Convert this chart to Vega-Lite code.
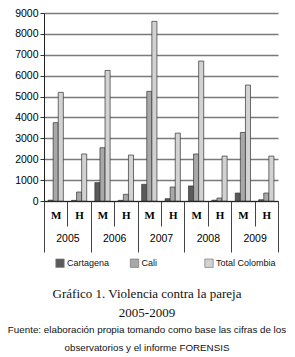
{
  "$schema": "https://vega.github.io/schema/vega-lite/v6.json",
  "autosize": {"type": "none"},
  "width": 234,
  "height": 188,
  "padding": {"left": 44, "top": 13, "right": 17, "bottom": 156},
  "background": "white",
  "config": {
    "view": {"stroke": null},
    "axis": {"labelColor": "black", "tickColor": "#333", "domainColor": "#222"}
  },
  "title": {
    "text": ["Gráfico 1. Violencia contra la pareja", "2005-2009"],
    "subtitle": ["Fuente: elaboración propia tomando como base las cifras de los", "observatorios y el informe FORENSIS\u2003\u2003\u2003\u2003\u2003"],
    "orient": "bottom",
    "anchor": "middle",
    "frame": "group",
    "dx": -14,
    "font": "Liberation Serif",
    "fontSize": 13,
    "fontWeight": "normal",
    "lineHeight": 19,
    "color": "#111",
    "subtitleFont": "Liberation Sans",
    "subtitleFontSize": 9.8,
    "subtitleLineHeight": 18,
    "subtitleColor": "#111",
    "subtitlePadding": 5,
    "offset": 19
  },
  "layer": [
    {
      "data": {
        "values": [
          {"cat": "2005|M", "serie": "Cartagena", "valor": 40},
          {"cat": "2005|M", "serie": "Cali", "valor": 3750},
          {"cat": "2005|M", "serie": "Total Colombia", "valor": 5200},
          {"cat": "2005|H", "serie": "Cartagena", "valor": 30},
          {"cat": "2005|H", "serie": "Cali", "valor": 430},
          {"cat": "2005|H", "serie": "Total Colombia", "valor": 2250},
          {"cat": "2006|M", "serie": "Cartagena", "valor": 880},
          {"cat": "2006|M", "serie": "Cali", "valor": 2550},
          {"cat": "2006|M", "serie": "Total Colombia", "valor": 6250},
          {"cat": "2006|H", "serie": "Cartagena", "valor": 30},
          {"cat": "2006|H", "serie": "Cali", "valor": 320},
          {"cat": "2006|H", "serie": "Total Colombia", "valor": 2200},
          {"cat": "2007|M", "serie": "Cartagena", "valor": 800},
          {"cat": "2007|M", "serie": "Cali", "valor": 5250},
          {"cat": "2007|M", "serie": "Total Colombia", "valor": 8600},
          {"cat": "2007|H", "serie": "Cartagena", "valor": 110},
          {"cat": "2007|H", "serie": "Cali", "valor": 670},
          {"cat": "2007|H", "serie": "Total Colombia", "valor": 3250},
          {"cat": "2008|M", "serie": "Cartagena", "valor": 720},
          {"cat": "2008|M", "serie": "Cali", "valor": 2250},
          {"cat": "2008|M", "serie": "Total Colombia", "valor": 6700},
          {"cat": "2008|H", "serie": "Cartagena", "valor": 40},
          {"cat": "2008|H", "serie": "Cali", "valor": 140},
          {"cat": "2008|H", "serie": "Total Colombia", "valor": 2150},
          {"cat": "2009|M", "serie": "Cartagena", "valor": 380},
          {"cat": "2009|M", "serie": "Cali", "valor": 3280},
          {"cat": "2009|M", "serie": "Total Colombia", "valor": 5550},
          {"cat": "2009|H", "serie": "Cartagena", "valor": 60},
          {"cat": "2009|H", "serie": "Cali", "valor": 380},
          {"cat": "2009|H", "serie": "Total Colombia", "valor": 2150}
        ]
      },
      "mark": {"type": "bar", "stroke": "#333", "strokeWidth": 0.7},
      "encoding": {
        "x": {
          "field": "cat",
          "type": "nominal",
          "sort": null,
          "scale": {"paddingInner": 0, "paddingOuter": 0},
          "axis": {
            "title": null,
            "labelAngle": 0,
            "labelExpr": "split(datum.value, '|')[1]",
            "labelFont": "Liberation Serif",
            "labelFontWeight": "bold",
            "labelFontSize": 11,
            "labelBaseline": "middle",
            "labelPadding": -11,
            "tickBand": "extent",
            "tickSize": 25,
            "tickColor": "#444",
            "domainColor": "#222"
          }
        },
        "xOffset": {
          "field": "serie",
          "type": "nominal",
          "sort": ["Cartagena", "Cali", "Total Colombia"],
          "scale": {"paddingInner": 0, "paddingOuter": 0.8}
        },
        "y": {
          "field": "valor",
          "type": "quantitative",
          "scale": {"domain": [0, 9000], "nice": false},
          "axis": {
            "title": null,
            "values": [0, 1000, 2000, 3000, 4000, 5000, 6000, 7000, 8000, 9000],
            "format": "d",
            "labelFont": "Liberation Sans",
            "labelFontSize": 10.5,
            "labelPadding": 2,
            "tickSize": 4,
            "grid": true,
            "gridColor": "#7a7a7a",
            "gridWidth": 1.5,
            "domainColor": "#222"
          }
        },
        "color": {
          "field": "serie",
          "type": "nominal",
          "sort": ["Cartagena", "Cali", "Total Colombia"],
          "scale": {"range": ["#5a5a5a", "#a8a8a8", "#d2d2d2"]},
          "legend": {
            "title": null,
            "orient": "none",
            "legendX": 11,
            "legendY": 245,
            "direction": "horizontal",
            "columns": 3,
            "gridAlign": "all",
            "columnPadding": 1.5,
            "symbolType": "square",
            "symbolSize": 70,
            "symbolStrokeColor": "#777",
            "symbolStrokeWidth": 0.7,
            "symbolOffset": 0,
            "labelFont": "Liberation Sans",
            "labelFontSize": 9,
            "labelColor": "#111",
            "labelOffset": 2
          }
        }
      }
    },
    {
      "data": {
        "values": [
          {"year": "2005"}, {"year": "2006"}, {"year": "2007"}, {"year": "2008"}, {"year": "2009"}
        ]
      },
      "mark": {"type": "rule", "strokeOpacity": 0},
      "encoding": {
        "x": {
          "field": "year",
          "type": "nominal",
          "scale": {"paddingInner": 0, "paddingOuter": 0},
          "axis": {
            "orient": "bottom",
            "title": null,
            "labelAngle": 0,
            "labelFont": "Liberation Sans",
            "labelFontSize": 10.5,
            "labelBaseline": "middle",
            "labelPadding": -14,
            "tickBand": "extent",
            "tickSize": 51,
            "tickColor": "#444",
            "domain": false
          }
        }
      }
    }
  ],
  "resolve": {"scale": {"x": "independent"}, "axis": {"x": "independent"}}
}
